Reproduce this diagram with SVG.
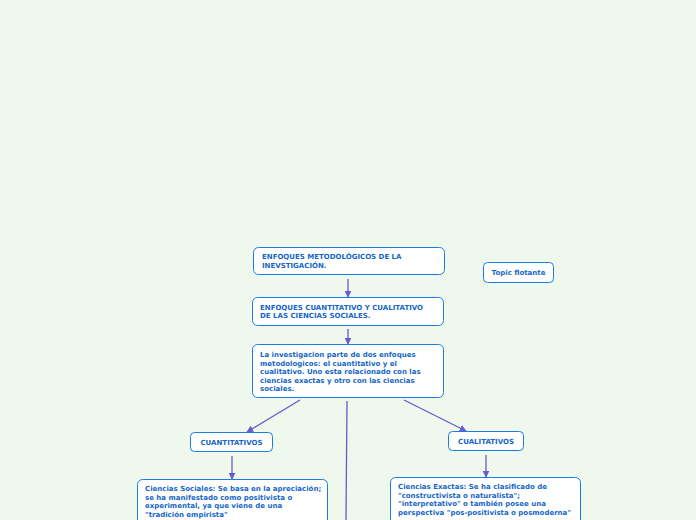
<svg xmlns="http://www.w3.org/2000/svg" width="696" height="520" viewBox="0 0 696 520">
<defs>
<style>
.box{fill:#ffffff;stroke:#1e7ae6;stroke-width:1;}
.t{font-family:"DejaVu Sans",Verdana,sans-serif;font-weight:bold;font-size:7px;fill:#1667c7;}
.c{fill:none;stroke:#6a5acd;stroke-width:1.3;}
</style>
<marker id="ah" viewBox="0 0 10 10" refX="9" refY="5" markerWidth="7" markerHeight="7" markerUnits="userSpaceOnUse" orient="auto">
<path d="M0,0 L10,5 L0,10 z" fill="#6a5acd"/>
</marker>
</defs>
<rect width="696" height="520" fill="#eef8ec"/>
<g id="connectors">
<line class="c" x1="348" y1="279" x2="348" y2="297" marker-end="url(#ah)"/>
<line class="c" x1="348" y1="329" x2="348" y2="344" marker-end="url(#ah)"/>
<line class="c" x1="300" y1="400" x2="247" y2="432" marker-end="url(#ah)"/>
<line class="c" x1="404" y1="400" x2="466" y2="431" marker-end="url(#ah)"/>
<line class="c" x1="347" y1="401" x2="346" y2="520"/>
<line class="c" x1="232" y1="456" x2="232" y2="479" marker-end="url(#ah)"/>
<line class="c" x1="486" y1="455" x2="486" y2="477" marker-end="url(#ah)"/>
</g>
<g id="n1">
<rect class="box" x="253.5" y="247.5" width="191" height="27" rx="5"/>
<text class="t" x="262" y="259">ENFOQUES METODOLÓGICOS DE LA</text>
<text class="t" x="262" y="267.5">INEVSTIGACIÓN.</text>
</g>
<g id="n2">
<rect class="box" x="483.5" y="262.5" width="70" height="20" rx="4"/>
<text class="t" x="518.5" y="275" text-anchor="middle">Topic flotante</text>
</g>
<g id="n3">
<rect class="box" x="252.5" y="297.5" width="191" height="28" rx="5"/>
<text class="t" x="260" y="309.5">ENFOQUES CUANTITATIVO Y CUALITATIVO</text>
<text class="t" x="260" y="318">DE LAS CIENCIAS SOCIALES.</text>
</g>
<g id="n4">
<rect class="box" x="252.5" y="344.5" width="191" height="53" rx="5"/>
<text class="t" x="260" y="357">La investigacion parte de dos enfoques</text>
<text class="t" x="260" y="365.5">metodologicos: el cuantitativo y el</text>
<text class="t" x="260" y="374">cualitativo. Uno esta relacionado con las</text>
<text class="t" x="260" y="382.5">ciencias exactas y otro con las ciencias</text>
<text class="t" x="260" y="391">sociales.</text>
</g>
<g id="n5">
<rect class="box" x="190.5" y="432.5" width="82" height="19" rx="4"/>
<text class="t" x="231.5" y="444.5" text-anchor="middle">CUANTITATIVOS</text>
</g>
<g id="n6">
<rect class="box" x="448.5" y="431.5" width="75" height="19" rx="4"/>
<text class="t" x="486" y="443.5" text-anchor="middle">CUALITATIVOS</text>
</g>
<g id="n7">
<rect class="box" x="137.5" y="479.5" width="190" height="50" rx="5"/>
<text class="t" x="145" y="491">Ciencias Sociales: Se basa en la apreciación;</text>
<text class="t" x="145" y="499.5">se ha manifestado como positivista o</text>
<text class="t" x="145" y="508">experimental, ya que viene de una</text>
<text class="t" x="145" y="516.5">"tradición empirista"</text>
</g>
<g id="n8">
<rect class="box" x="390.5" y="477.5" width="190" height="50" rx="5"/>
<text class="t" x="398" y="489">Ciencias Exactas: Se ha clasificado de</text>
<text class="t" x="398" y="497.5">"constructivista o naturalista";</text>
<text class="t" x="398" y="506">"interpretativo" o también posee una</text>
<text class="t" x="398" y="514.5">perspectiva "pos-positivista o posmoderna"</text>
</g>
</svg>
